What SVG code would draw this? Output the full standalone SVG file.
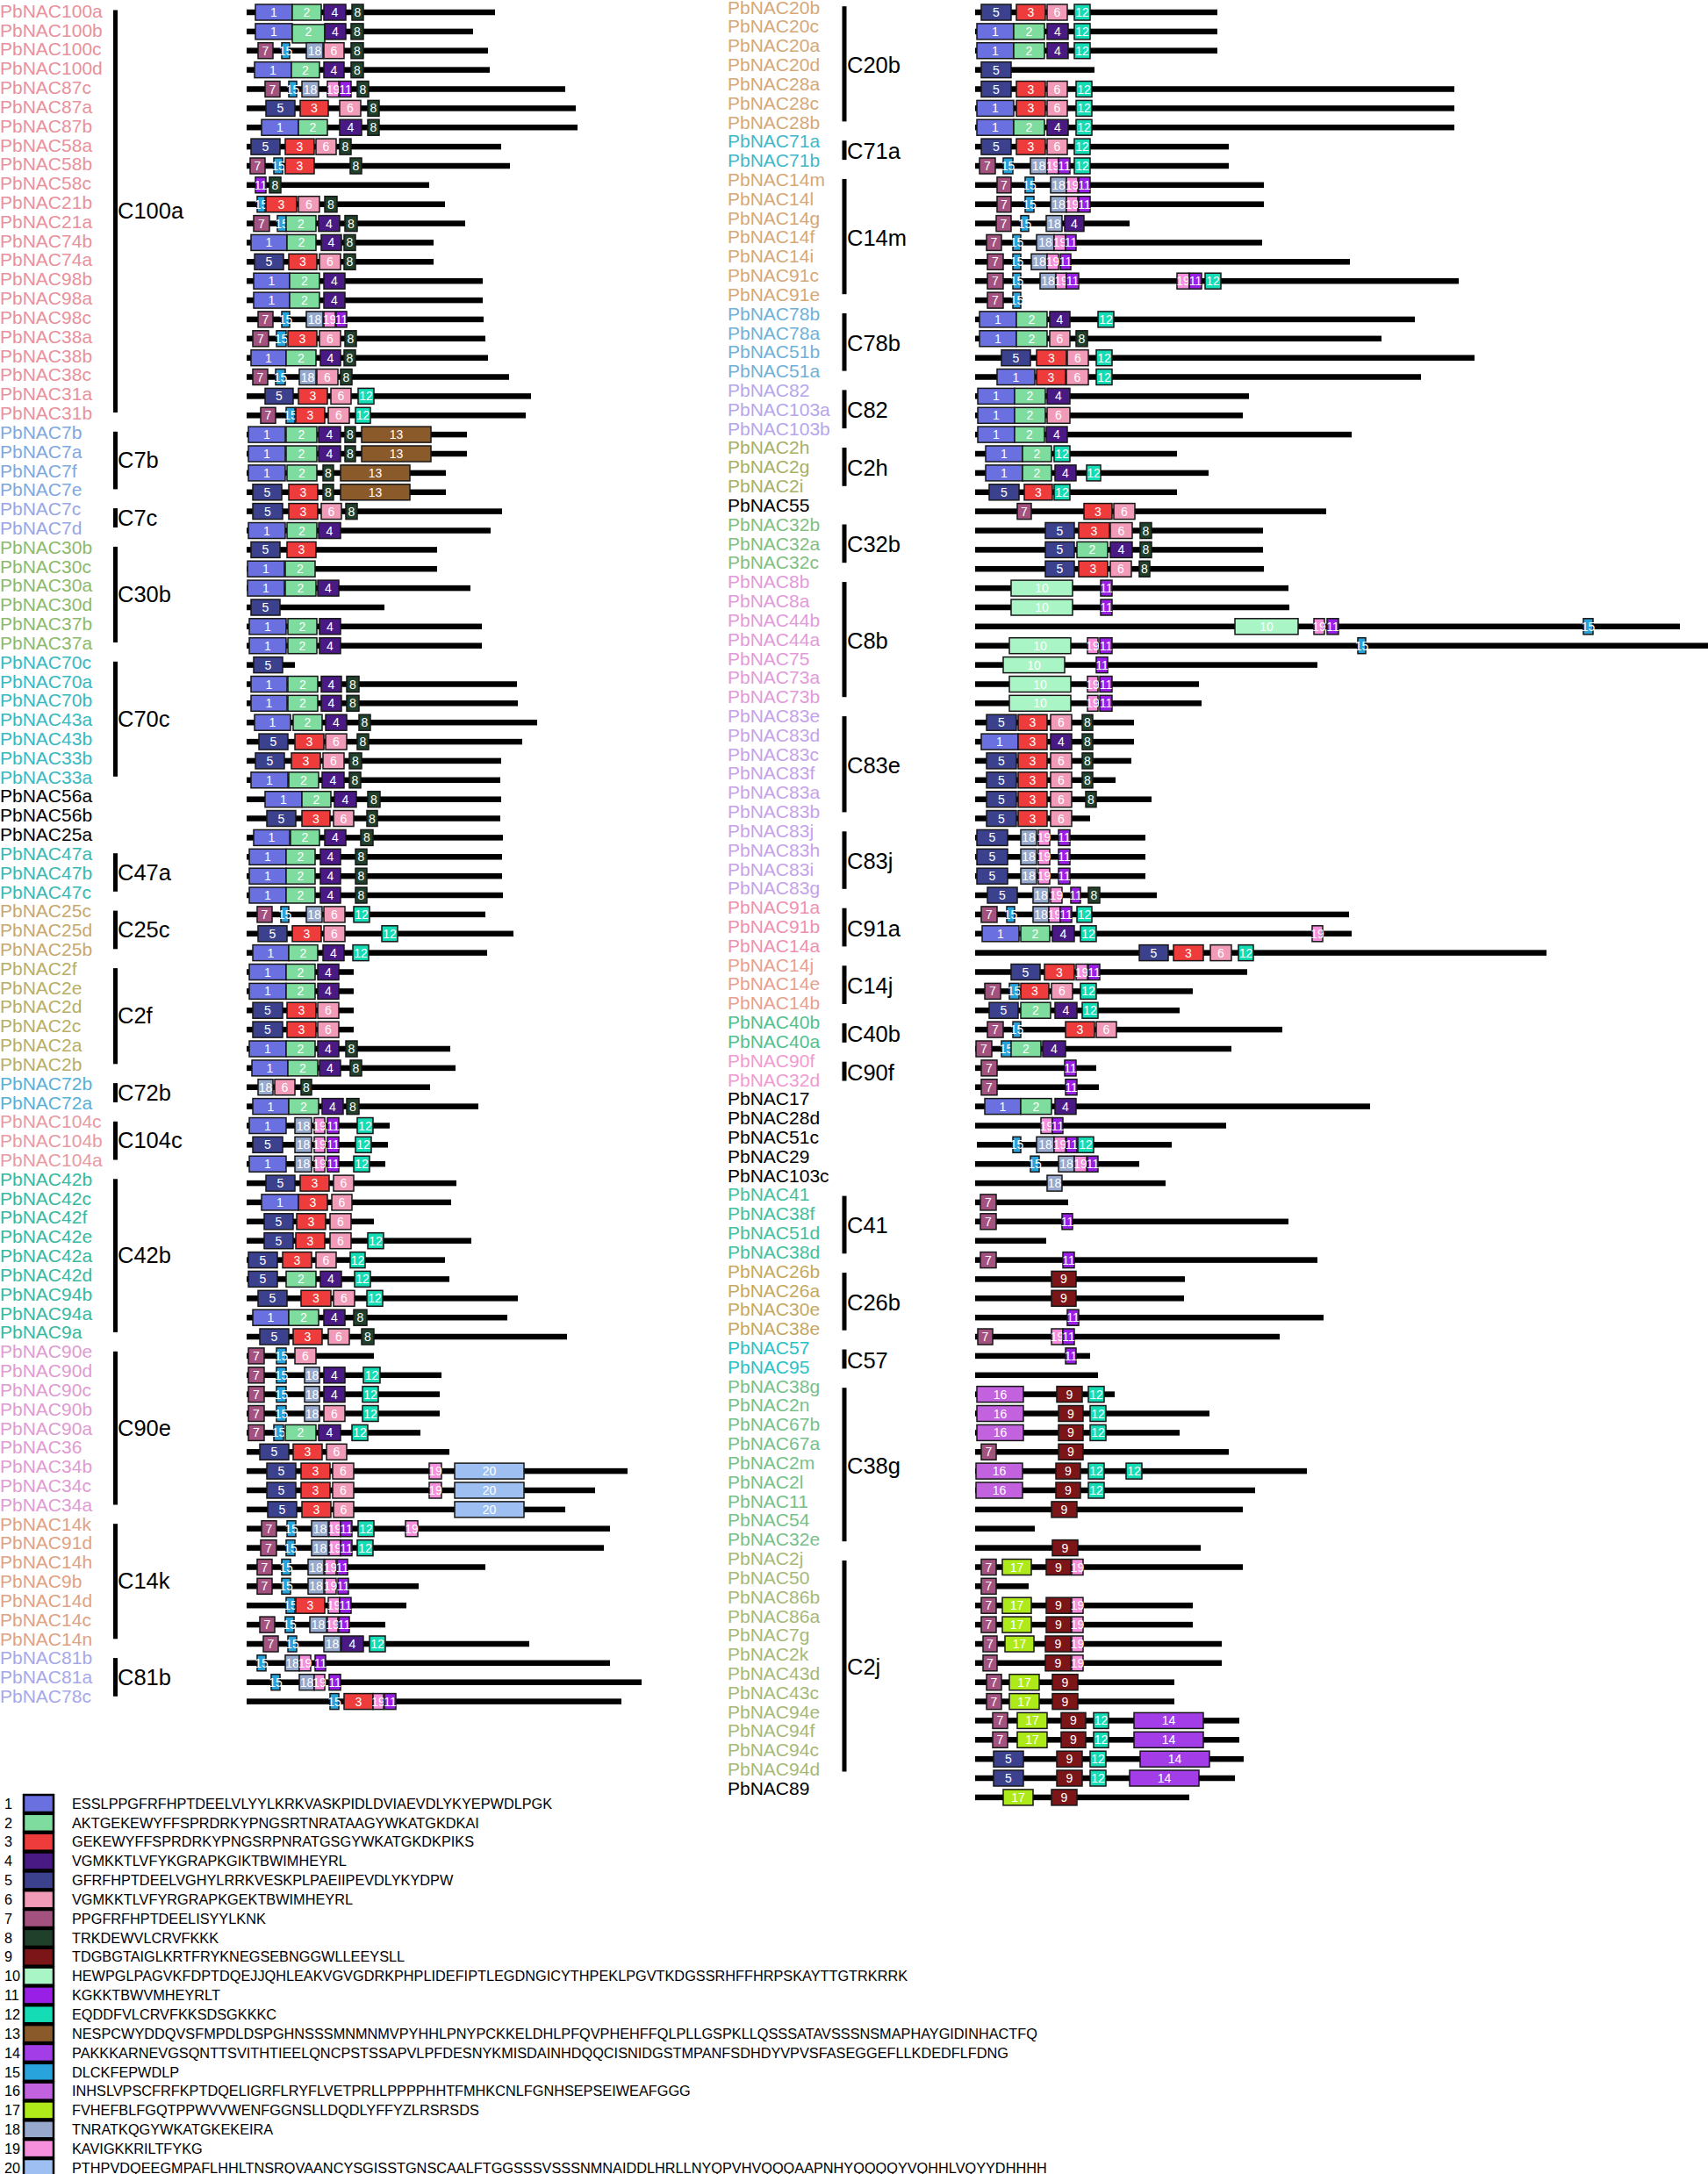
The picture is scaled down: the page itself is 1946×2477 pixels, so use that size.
<svg xmlns="http://www.w3.org/2000/svg" width="1946" height="2477" viewBox="0 0 1946 2477">
<style>
text{font-family:"Liberation Sans",Arial,sans-serif}
.r text{fill:#fff;font-size:14px;text-anchor:middle;dominant-baseline:central}
.r text.l{font-size:21px;text-anchor:start;dominant-baseline:alphabetic}
.r rect{y:-9px;height:18px;stroke:#161616;stroke-width:1.5}
.r .b{y:-3.25px;height:6.5px;fill:#000;stroke:none}
.cb{fill:#000}
.cl{font-size:25.5px;fill:#000}
.ln,.lt{font-size:16.3px;fill:#000}
.lb{stroke:#000;stroke-width:2.5}
.c1{fill:#6a70e0}.c2{fill:#7ddc9e}.c3{fill:#ee3b3b}.c4{fill:#4a1a84}.c5{fill:#3c418e}
.c6{fill:#f19bb9}.c7{fill:#a3527f}.c8{fill:#20402b}.c9{fill:#7b1518}.c10{fill:#aaf5c5}
.c11{fill:#9a1fe6}.c12{fill:#14dcb4}.c13{fill:#8b5a2b}.c14{fill:#a23de8}.c15{fill:#28a3dc}
.c16{fill:#c262de}.c17{fill:#aeea1a}.c18{fill:#97a9cc}.c19{fill:#f690dc}.c20{fill:#9dbff2}
.r .k0{fill:#000}.r .k1{fill:#e8919c}.r .k2{fill:#7fa8de}.r .k3{fill:#98a6e6}.r .k4{fill:#8cba6c}
.r .k5{fill:#36b9c2}.r .k6{fill:#38b8b2}.r .k7{fill:#c9a86e}.r .k8{fill:#b8ae66}.r .k9{fill:#58b0d6}
.r .k10{fill:#e99aa2}.r .k11{fill:#36b9a0}.r .k12{fill:#e09bd2}.r .k13{fill:#e0a282}.r .k14{fill:#a6a8ea}
.r .k15{fill:#d6a878}.r .k16{fill:#3fb9c9}.r .k17{fill:#6fb1d8}.r .k18{fill:#b6a6ec}.r .k19{fill:#a8b066}
.r .k20{fill:#7fc081}.r .k21{fill:#e29ada}.r .k22{fill:#c6a2ea}.r .k23{fill:#f090b0}.r .k24{fill:#e8a090}
.r .k25{fill:#4fc190}.r .k26{fill:#f19ad2}.r .k27{fill:#42c1a0}.r .k28{fill:#c6a860}.r .k29{fill:#2ac1c8}
.r .k30{fill:#76c18a}.r .k31{fill:#a6b978}
</style>
<g id="left">
<g id="PbNAC100a" class="r" transform="translate(0,14)"><text class="l k1" y="5.8">PbNAC100a</text><rect class="b" x="281" width="283"/><rect class="c1" x="291" width="42"/><text x="312">1</text><rect class="c2" x="333" width="33"/><text x="349.5">2</text><rect class="c4" x="369" width="25"/><text x="381.5">4</text><rect class="c8" x="401" width="13"/><text x="407.5">8</text></g>
<g id="PbNAC100b" class="r" transform="translate(0,35.9)"><text class="l k1" y="5.75">PbNAC100b</text><rect class="b" x="281" width="258"/><rect class="c1" x="291" width="42"/><text x="312">1</text><rect class="c2" x="333" width="37" style="y:-8px;height:21px"/><text x="351.5">2</text><rect class="c4" x="370" width="24"/><text x="382">4</text><rect class="c8" x="400" width="14"/><text x="407">8</text></g>
<g id="PbNAC100c" class="r" transform="translate(0,57.7)"><text class="l k1" y="5.7">PbNAC100c</text><rect class="b" x="281" width="275"/><rect class="c7" x="294" width="17"/><text x="302.5">7</text><rect class="c15" x="321" width="9"/><text x="325.5">15</text><rect class="c18" x="349" width="19"/><text x="358.5">18</text><rect class="c6" x="369" width="23"/><text x="380.5">6</text><rect class="c8" x="400" width="14"/><text x="407">8</text></g>
<g id="PbNAC100d" class="r" transform="translate(0,79.6)"><text class="l k1" y="5.65">PbNAC100d</text><rect class="b" x="281" width="277"/><rect class="c1" x="290" width="42"/><text x="311">1</text><rect class="c2" x="332" width="32"/><text x="348">2</text><rect class="c4" x="369" width="23"/><text x="380.5">4</text><rect class="c8" x="400" width="14"/><text x="407">8</text></g>
<g id="PbNAC87c" class="r" transform="translate(0,101.5)"><text class="l k1" y="5.6">PbNAC87c</text><rect class="b" x="281" width="363"/><rect class="c7" x="302" width="17"/><text x="310.5">7</text><rect class="c15" x="329" width="9"/><text x="333.5">15</text><rect class="c18" x="344" width="19"/><text x="353.5">18</text><rect class="c19" x="373" width="13"/><text x="379.5">19</text><rect class="c11" x="387" width="13"/><text x="393.5">11</text><rect class="c8" x="407" width="13"/><text x="413.5">8</text></g>
<g id="PbNAC87a" class="r" transform="translate(0,123.4)"><text class="l k1" y="5.55">PbNAC87a</text><rect class="b" x="281" width="375"/><rect class="c5" x="303" width="33"/><text x="319.5">5</text><rect class="c3" x="342" width="32"/><text x="358">3</text><rect class="c6" x="387" width="24"/><text x="399">6</text><rect class="c8" x="419" width="13"/><text x="425.5">8</text></g>
<g id="PbNAC87b" class="r" transform="translate(0,145.2)"><text class="l k1" y="5.5">PbNAC87b</text><rect class="b" x="281" width="377"/><rect class="c1" x="298" width="42"/><text x="319">1</text><rect class="c2" x="340" width="33"/><text x="356.5">2</text><rect class="c4" x="387" width="25"/><text x="399.5">4</text><rect class="c8" x="419" width="13"/><text x="425.5">8</text></g>
<g id="PbNAC58a" class="r" transform="translate(0,167.1)"><text class="l k1" y="5.45">PbNAC58a</text><rect class="b" x="281" width="290"/><rect class="c5" x="286" width="33"/><text x="302.5">5</text><rect class="c3" x="325" width="33"/><text x="341.5">3</text><rect class="c6" x="360" width="23"/><text x="371.5">6</text><rect class="c8" x="387" width="13"/><text x="393.5">8</text></g>
<g id="PbNAC58b" class="r" transform="translate(0,189)"><text class="l k1" y="5.4">PbNAC58b</text><rect class="b" x="281" width="300"/><rect class="c7" x="285" width="17"/><text x="293.5">7</text><rect class="c15" x="312" width="10"/><text x="317">15</text><rect class="c3" x="325" width="33"/><text x="341.5">3</text><rect class="c8" x="399" width="13"/><text x="405.5">8</text></g>
<g id="PbNAC58c" class="r" transform="translate(0,210.8)"><text class="l k1" y="5.35">PbNAC58c</text><rect class="b" x="281" width="208"/><rect class="c11" x="291" width="12"/><text x="297">11</text><rect class="c8" x="307" width="13"/><text x="313.5">8</text></g>
<g id="PbNAC21b" class="r" transform="translate(0,232.7)"><text class="l k1" y="5.3">PbNAC21b</text><rect class="b" x="281" width="226"/><rect class="c15" x="293" width="9"/><text x="297.5">15</text><rect class="c3" x="303" width="35"/><text x="320.5">3</text><rect class="c6" x="340" width="24"/><text x="352">6</text><rect class="c8" x="370" width="14"/><text x="377">8</text></g>
<g id="PbNAC21a" class="r" transform="translate(0,254.6)"><text class="l k1" y="5.25">PbNAC21a</text><rect class="b" x="281" width="249"/><rect class="c7" x="289" width="18"/><text x="298">7</text><rect class="c15" x="316" width="10"/><text x="321">15</text><rect class="c2" x="326" width="34"/><text x="343">2</text><rect class="c4" x="363" width="24"/><text x="375">4</text><rect class="c8" x="393" width="14"/><text x="400">8</text></g>
<g id="PbNAC74b" class="r" transform="translate(0,276.4)"><text class="l k1" y="5.2">PbNAC74b</text><rect class="b" x="281" width="213"/><rect class="c1" x="286" width="41"/><text x="306.5">1</text><rect class="c2" x="327" width="33"/><text x="343.5">2</text><rect class="c4" x="366" width="23"/><text x="377.5">4</text><rect class="c8" x="392" width="13"/><text x="398.5">8</text></g>
<g id="PbNAC74a" class="r" transform="translate(0,298.3)"><text class="l k1" y="5.15">PbNAC74a</text><rect class="b" x="281" width="213"/><rect class="c5" x="290" width="33"/><text x="306.5">5</text><rect class="c3" x="329" width="32"/><text x="345">3</text><rect class="c6" x="364" width="24"/><text x="376">6</text><rect class="c8" x="392" width="13"/><text x="398.5">8</text></g>
<g id="PbNAC98b" class="r" transform="translate(0,320.2)"><text class="l k1" y="5.1">PbNAC98b</text><rect class="b" x="281" width="269"/><rect class="c1" x="289" width="41"/><text x="309.5">1</text><rect class="c2" x="330" width="34"/><text x="347">2</text><rect class="c4" x="369" width="24"/><text x="381">4</text></g>
<g id="PbNAC98a" class="r" transform="translate(0,342.1)"><text class="l k1" y="5.05">PbNAC98a</text><rect class="b" x="281" width="269"/><rect class="c1" x="289" width="41"/><text x="309.5">1</text><rect class="c2" x="330" width="34"/><text x="347">2</text><rect class="c4" x="369" width="24"/><text x="381">4</text></g>
<g id="PbNAC98c" class="r" transform="translate(0,363.9)"><text class="l k1" y="5">PbNAC98c</text><rect class="b" x="281" width="270"/><rect class="c7" x="294" width="17"/><text x="302.5">7</text><rect class="c15" x="321" width="9"/><text x="325.5">15</text><rect class="c18" x="349" width="19"/><text x="358.5">18</text><rect class="c19" x="369" width="13"/><text x="375.5">19</text><rect class="c11" x="383" width="12"/><text x="389">11</text></g>
<g id="PbNAC38a" class="r" transform="translate(0,385.8)"><text class="l k1" y="4.95">PbNAC38a</text><rect class="b" x="281" width="272"/><rect class="c7" x="288" width="18"/><text x="297">7</text><rect class="c15" x="315" width="11"/><text x="320.5">15</text><rect class="c3" x="328" width="33"/><text x="344.5">3</text><rect class="c6" x="364" width="24"/><text x="376">6</text><rect class="c8" x="393" width="13"/><text x="399.5">8</text></g>
<g id="PbNAC38b" class="r" transform="translate(0,407.7)"><text class="l k1" y="4.9">PbNAC38b</text><rect class="b" x="281" width="275"/><rect class="c1" x="286" width="40"/><text x="306">1</text><rect class="c2" x="326" width="34"/><text x="343">2</text><rect class="c4" x="365" width="23"/><text x="376.5">4</text><rect class="c8" x="392" width="13"/><text x="398.5">8</text></g>
<g id="PbNAC38c" class="r" transform="translate(0,429.5)"><text class="l k1" y="4.85">PbNAC38c</text><rect class="b" x="281" width="299"/><rect class="c7" x="288" width="17"/><text x="296.5">7</text><rect class="c15" x="314" width="11"/><text x="319.5">15</text><rect class="c18" x="341" width="19"/><text x="350.5">18</text><rect class="c6" x="361" width="24"/><text x="373">6</text><rect class="c8" x="388" width="13"/><text x="394.5">8</text></g>
<g id="PbNAC31a" class="r" transform="translate(0,451.4)"><text class="l k1" y="4.8">PbNAC31a</text><rect class="b" x="281" width="324"/><rect class="c5" x="302" width="32"/><text x="318">5</text><rect class="c3" x="340" width="33"/><text x="356.5">3</text><rect class="c6" x="377" width="23"/><text x="388.5">6</text><rect class="c12" x="408" width="18"/><text x="417">12</text></g>
<g id="PbNAC31b" class="r" transform="translate(0,473.3)"><text class="l k1" y="4.75">PbNAC31b</text><rect class="b" x="281" width="318"/><rect class="c7" x="297" width="17"/><text x="305.5">7</text><rect class="c15" x="326" width="10"/><text x="331">15</text><rect class="c3" x="337" width="33"/><text x="353.5">3</text><rect class="c6" x="374" width="24"/><text x="386">6</text><rect class="c12" x="405" width="17"/><text x="413.5">12</text></g>
<g id="PbNAC7b" class="r" transform="translate(0,495.1)"><text class="l k2" y="4.7">PbNAC7b</text><rect class="b" x="281" width="251"/><rect class="c1" x="283" width="42"/><text x="304">1</text><rect class="c2" x="326" width="35"/><text x="343.5">2</text><rect class="c4" x="363" width="25"/><text x="375.5">4</text><rect class="c8" x="393" width="12"/><text x="399">8</text><rect class="c13" x="412" width="79"/><text x="451.5">13</text></g>
<g id="PbNAC7a" class="r" transform="translate(0,517)"><text class="l k2" y="4.65">PbNAC7a</text><rect class="b" x="281" width="251"/><rect class="c1" x="283" width="42"/><text x="304">1</text><rect class="c2" x="326" width="35"/><text x="343.5">2</text><rect class="c4" x="363" width="25"/><text x="375.5">4</text><rect class="c8" x="393" width="12"/><text x="399">8</text><rect class="c13" x="412" width="79"/><text x="451.5">13</text></g>
<g id="PbNAC7f" class="r" transform="translate(0,538.9)"><text class="l k2" y="4.6">PbNAC7f</text><rect class="b" x="281" width="227"/><rect class="c1" x="283" width="42"/><text x="304">1</text><rect class="c2" x="327" width="34"/><text x="344">2</text><rect class="c8" x="368" width="12"/><text x="374">8</text><rect class="c13" x="388" width="79"/><text x="427.5">13</text></g>
<g id="PbNAC7e" class="r" transform="translate(0,560.8)"><text class="l k2" y="4.55">PbNAC7e</text><rect class="b" x="281" width="227"/><rect class="c5" x="288" width="33"/><text x="304.5">5</text><rect class="c3" x="329" width="33"/><text x="345.5">3</text><rect class="c8" x="368" width="12"/><text x="374">8</text><rect class="c13" x="388" width="79"/><text x="427.5">13</text></g>
<g id="PbNAC7c" class="r" transform="translate(0,582.6)"><text class="l k3" y="4.5">PbNAC7c</text><rect class="b" x="281" width="291"/><rect class="c5" x="288" width="34"/><text x="305">5</text><rect class="c3" x="329" width="33"/><text x="345.5">3</text><rect class="c6" x="366" width="23"/><text x="377.5">6</text><rect class="c8" x="394" width="13"/><text x="400.5">8</text></g>
<g id="PbNAC7d" class="r" transform="translate(0,604.5)"><text class="l k3" y="4.45">PbNAC7d</text><rect class="b" x="281" width="278"/><rect class="c1" x="283" width="42"/><text x="304">1</text><rect class="c2" x="327" width="34"/><text x="344">2</text><rect class="c4" x="363" width="25"/><text x="375.5">4</text></g>
<g id="PbNAC30b" class="r" transform="translate(0,626.4)"><text class="l k4" y="4.4">PbNAC30b</text><rect class="b" x="281" width="217"/><rect class="c5" x="286" width="33"/><text x="302.5">5</text><rect class="c3" x="327" width="33"/><text x="343.5">3</text></g>
<g id="PbNAC30c" class="r" transform="translate(0,648.2)"><text class="l k4" y="4.35">PbNAC30c</text><rect class="b" x="281" width="217"/><rect class="c1" x="282" width="42"/><text x="303">1</text><rect class="c2" x="325" width="34"/><text x="342">2</text></g>
<g id="PbNAC30a" class="r" transform="translate(0,670.1)"><text class="l k4" y="4.3">PbNAC30a</text><rect class="b" x="281" width="255"/><rect class="c1" x="282" width="42"/><text x="303">1</text><rect class="c2" x="325" width="35"/><text x="342.5">2</text><rect class="c4" x="362" width="24"/><text x="374">4</text></g>
<g id="PbNAC30d" class="r" transform="translate(0,692)"><text class="l k4" y="4.25">PbNAC30d</text><rect class="b" x="281" width="157"/><rect class="c5" x="286" width="33"/><text x="302.5">5</text></g>
<g id="PbNAC37b" class="r" transform="translate(0,713.8)"><text class="l k4" y="4.2">PbNAC37b</text><rect class="b" x="281" width="268"/><rect class="c1" x="284" width="42"/><text x="305">1</text><rect class="c2" x="328" width="33"/><text x="344.5">2</text><rect class="c4" x="364" width="24"/><text x="376">4</text></g>
<g id="PbNAC37a" class="r" transform="translate(0,735.7)"><text class="l k4" y="4.15">PbNAC37a</text><rect class="b" x="281" width="268"/><rect class="c1" x="284" width="42"/><text x="305">1</text><rect class="c2" x="328" width="33"/><text x="344.5">2</text><rect class="c4" x="364" width="24"/><text x="376">4</text></g>
<g id="PbNAC70c" class="r" transform="translate(0,757.6)"><text class="l k5" y="4.1">PbNAC70c</text><rect class="b" x="281" width="55"/><rect class="c5" x="289" width="33"/><text x="305.5">5</text></g>
<g id="PbNAC70a" class="r" transform="translate(0,779.5)"><text class="l k5" y="4.05">PbNAC70a</text><rect class="b" x="281" width="308"/><rect class="c1" x="286" width="41"/><text x="306.5">1</text><rect class="c2" x="328" width="34"/><text x="345">2</text><rect class="c4" x="366" width="23"/><text x="377.5">4</text><rect class="c8" x="395" width="14"/><text x="402">8</text></g>
<g id="PbNAC70b" class="r" transform="translate(0,801.3)"><text class="l k5" y="4">PbNAC70b</text><rect class="b" x="281" width="309"/><rect class="c1" x="286" width="41"/><text x="306.5">1</text><rect class="c2" x="328" width="34"/><text x="345">2</text><rect class="c4" x="366" width="23"/><text x="377.5">4</text><rect class="c8" x="395" width="14"/><text x="402">8</text></g>
<g id="PbNAC43a" class="r" transform="translate(0,823.2)"><text class="l k5" y="3.95">PbNAC43a</text><rect class="b" x="281" width="331"/><rect class="c1" x="290" width="41"/><text x="310.5">1</text><rect class="c2" x="334" width="33"/><text x="350.5">2</text><rect class="c4" x="371" width="24"/><text x="383">4</text><rect class="c8" x="409" width="13"/><text x="415.5">8</text></g>
<g id="PbNAC43b" class="r" transform="translate(0,845.1)"><text class="l k5" y="3.9">PbNAC43b</text><rect class="b" x="281" width="314"/><rect class="c5" x="295" width="33"/><text x="311.5">5</text><rect class="c3" x="336" width="33"/><text x="352.5">3</text><rect class="c6" x="371" width="24"/><text x="383">6</text><rect class="c8" x="407" width="13"/><text x="413.5">8</text></g>
<g id="PbNAC33b" class="r" transform="translate(0,866.9)"><text class="l k5" y="3.85">PbNAC33b</text><rect class="b" x="281" width="290"/><rect class="c5" x="291" width="33"/><text x="307.5">5</text><rect class="c3" x="332" width="33"/><text x="348.5">3</text><rect class="c6" x="368" width="24"/><text x="380">6</text><rect class="c8" x="398" width="14"/><text x="405">8</text></g>
<g id="PbNAC33a" class="r" transform="translate(0,888.8)"><text class="l k5" y="3.8">PbNAC33a</text><rect class="b" x="281" width="289"/><rect class="c1" x="286" width="42"/><text x="307">1</text><rect class="c2" x="329" width="34"/><text x="346">2</text><rect class="c4" x="367" width="25"/><text x="379.5">4</text><rect class="c8" x="398" width="13"/><text x="404.5">8</text></g>
<g id="PbNAC56a" class="r" transform="translate(0,910.7)"><text class="l k0" y="3.75">PbNAC56a</text><rect class="b" x="281" width="290"/><rect class="c1" x="302" width="42"/><text x="323">1</text><rect class="c2" x="344" width="33"/><text x="360.5">2</text><rect class="c4" x="381" width="25"/><text x="393.5">4</text><rect class="c8" x="419" width="14"/><text x="426">8</text></g>
<g id="PbNAC56b" class="r" transform="translate(0,932.5)"><text class="l k0" y="3.7">PbNAC56b</text><rect class="b" x="281" width="289"/><rect class="c5" x="304" width="33"/><text x="320.5">5</text><rect class="c3" x="344" width="32"/><text x="360">3</text><rect class="c6" x="380" width="23"/><text x="391.5">6</text><rect class="c8" x="418" width="12"/><text x="424">8</text></g>
<g id="PbNAC25a" class="r" transform="translate(0,954.4)"><text class="l k0" y="3.65">PbNAC25a</text><rect class="b" x="281" width="292"/><rect class="c1" x="289" width="41"/><text x="309.5">1</text><rect class="c2" x="331" width="33"/><text x="347.5">2</text><rect class="c4" x="370" width="24"/><text x="382">4</text><rect class="c8" x="411" width="14"/><text x="418">8</text></g>
<g id="PbNAC47a" class="r" transform="translate(0,976.3)"><text class="l k6" y="3.6">PbNAC47a</text><rect class="b" x="281" width="291"/><rect class="c1" x="284" width="42"/><text x="305">1</text><rect class="c2" x="326" width="33"/><text x="342.5">2</text><rect class="c4" x="365" width="23"/><text x="376.5">4</text><rect class="c8" x="405" width="13"/><text x="411.5">8</text></g>
<g id="PbNAC47b" class="r" transform="translate(0,998.2)"><text class="l k6" y="3.55">PbNAC47b</text><rect class="b" x="281" width="291"/><rect class="c1" x="284" width="42"/><text x="305">1</text><rect class="c2" x="326" width="33"/><text x="342.5">2</text><rect class="c4" x="365" width="23"/><text x="376.5">4</text><rect class="c8" x="405" width="13"/><text x="411.5">8</text></g>
<g id="PbNAC47c" class="r" transform="translate(0,1020)"><text class="l k6" y="3.5">PbNAC47c</text><rect class="b" x="281" width="292"/><rect class="c1" x="284" width="42"/><text x="305">1</text><rect class="c2" x="326" width="33"/><text x="342.5">2</text><rect class="c4" x="365" width="23"/><text x="376.5">4</text><rect class="c8" x="405" width="13"/><text x="411.5">8</text></g>
<g id="PbNAC25c" class="r" transform="translate(0,1041.9)"><text class="l k7" y="3.45">PbNAC25c</text><rect class="b" x="281" width="272"/><rect class="c7" x="293" width="17"/><text x="301.5">7</text><rect class="c15" x="320" width="9"/><text x="324.5">15</text><rect class="c18" x="349" width="18"/><text x="358">18</text><rect class="c6" x="369" width="24"/><text x="381">6</text><rect class="c12" x="403" width="18"/><text x="412">12</text></g>
<g id="PbNAC25d" class="r" transform="translate(0,1063.8)"><text class="l k7" y="3.4">PbNAC25d</text><rect class="b" x="281" width="304"/><rect class="c5" x="294" width="33"/><text x="310.5">5</text><rect class="c3" x="333" width="33"/><text x="349.5">3</text><rect class="c6" x="369" width="24"/><text x="381">6</text><rect class="c12" x="435" width="18"/><text x="444">12</text></g>
<g id="PbNAC25b" class="r" transform="translate(0,1085.6)"><text class="l k7" y="3.35">PbNAC25b</text><rect class="b" x="281" width="274"/><rect class="c1" x="288" width="41"/><text x="308.5">1</text><rect class="c2" x="329" width="33"/><text x="345.5">2</text><rect class="c4" x="368" width="24"/><text x="380">4</text><rect class="c12" x="402" width="18"/><text x="411">12</text></g>
<g id="PbNAC2f" class="r" transform="translate(0,1107.5)"><text class="l k8" y="3.3">PbNAC2f</text><rect class="b" x="281" width="122"/><rect class="c1" x="284" width="42"/><text x="305">1</text><rect class="c2" x="326" width="33"/><text x="342.5">2</text><rect class="c4" x="362" width="24"/><text x="374">4</text></g>
<g id="PbNAC2e" class="r" transform="translate(0,1129.4)"><text class="l k8" y="3.25">PbNAC2e</text><rect class="b" x="281" width="122"/><rect class="c1" x="284" width="42"/><text x="305">1</text><rect class="c2" x="326" width="33"/><text x="342.5">2</text><rect class="c4" x="362" width="24"/><text x="374">4</text></g>
<g id="PbNAC2d" class="r" transform="translate(0,1151.2)"><text class="l k8" y="3.2">PbNAC2d</text><rect class="b" x="281" width="122"/><rect class="c5" x="288" width="34"/><text x="305">5</text><rect class="c3" x="327" width="33"/><text x="343.5">3</text><rect class="c6" x="362" width="24"/><text x="374">6</text></g>
<g id="PbNAC2c" class="r" transform="translate(0,1173.1)"><text class="l k8" y="3.15">PbNAC2c</text><rect class="b" x="281" width="122"/><rect class="c5" x="288" width="34"/><text x="305">5</text><rect class="c3" x="327" width="33"/><text x="343.5">3</text><rect class="c6" x="362" width="24"/><text x="374">6</text></g>
<g id="PbNAC2a" class="r" transform="translate(0,1195)"><text class="l k8" y="3.1">PbNAC2a</text><rect class="b" x="281" width="232"/><rect class="c1" x="284" width="42"/><text x="305">1</text><rect class="c2" x="326" width="33"/><text x="342.5">2</text><rect class="c4" x="362" width="24"/><text x="374">4</text><rect class="c8" x="394" width="13"/><text x="400.5">8</text></g>
<g id="PbNAC2b" class="r" transform="translate(0,1216.9)"><text class="l k8" y="3.05">PbNAC2b</text><rect class="b" x="281" width="238"/><rect class="c1" x="287" width="41"/><text x="307.5">1</text><rect class="c2" x="328" width="34"/><text x="345">2</text><rect class="c4" x="364" width="24"/><text x="376">4</text><rect class="c8" x="399" width="13"/><text x="405.5">8</text></g>
<g id="PbNAC72b" class="r" transform="translate(0,1238.7)"><text class="l k9" y="3">PbNAC72b</text><rect class="b" x="281" width="209"/><rect class="c18" x="294" width="17"/><text x="302.5">18</text><rect class="c6" x="313" width="23"/><text x="324.5">6</text><rect class="c8" x="343" width="12"/><text x="349">8</text></g>
<g id="PbNAC72a" class="r" transform="translate(0,1260.6)"><text class="l k9" y="2.95">PbNAC72a</text><rect class="b" x="281" width="264"/><rect class="c1" x="288" width="41"/><text x="308.5">1</text><rect class="c2" x="329" width="34"/><text x="346">2</text><rect class="c4" x="367" width="24"/><text x="379">4</text><rect class="c8" x="395" width="14"/><text x="402">8</text></g>
<g id="PbNAC104c" class="r" transform="translate(0,1282.5)"><text class="l k10" y="2.9">PbNAC104c</text><rect class="b" x="281" width="163"/><rect class="c1" x="284" width="42"/><text x="305">1</text><rect class="c18" x="336" width="19"/><text x="345.5">18</text><rect class="c19" x="358" width="12"/><text x="364">19</text><rect class="c11" x="373" width="13"/><text x="379.5">11</text><rect class="c12" x="407" width="18"/><text x="416">12</text></g>
<g id="PbNAC104b" class="r" transform="translate(0,1304.3)"><text class="l k10" y="2.85">PbNAC104b</text><rect class="b" x="281" width="161"/><rect class="c5" x="288" width="34"/><text x="305">5</text><rect class="c18" x="336" width="19"/><text x="345.5">18</text><rect class="c19" x="358" width="12"/><text x="364">19</text><rect class="c11" x="373" width="13"/><text x="379.5">11</text><rect class="c12" x="405" width="18"/><text x="414">12</text></g>
<g id="PbNAC104a" class="r" transform="translate(0,1326.2)"><text class="l k10" y="2.8">PbNAC104a</text><rect class="b" x="281" width="158"/><rect class="c1" x="284" width="42"/><text x="305">1</text><rect class="c18" x="336" width="19"/><text x="345.5">18</text><rect class="c19" x="358" width="12"/><text x="364">19</text><rect class="c11" x="373" width="13"/><text x="379.5">11</text><rect class="c12" x="403" width="18"/><text x="412">12</text></g>
<g id="PbNAC42b" class="r" transform="translate(0,1348.1)"><text class="l k11" y="2.75">PbNAC42b</text><rect class="b" x="281" width="239"/><rect class="c5" x="303" width="33"/><text x="319.5">5</text><rect class="c3" x="342" width="33"/><text x="358.5">3</text><rect class="c6" x="380" width="23"/><text x="391.5">6</text></g>
<g id="PbNAC42c" class="r" transform="translate(0,1369.9)"><text class="l k11" y="2.7">PbNAC42c</text><rect class="b" x="281" width="233"/><rect class="c1" x="298" width="42"/><text x="319">1</text><rect class="c3" x="340" width="33"/><text x="356.5">3</text><rect class="c6" x="378" width="23"/><text x="389.5">6</text></g>
<g id="PbNAC42f" class="r" transform="translate(0,1391.8)"><text class="l k11" y="2.65">PbNAC42f</text><rect class="b" x="281" width="145"/><rect class="c5" x="301" width="33"/><text x="317.5">5</text><rect class="c3" x="338" width="33"/><text x="354.5">3</text><rect class="c6" x="376" width="24"/><text x="388">6</text></g>
<g id="PbNAC42e" class="r" transform="translate(0,1413.7)"><text class="l k11" y="2.6">PbNAC42e</text><rect class="b" x="281" width="256"/><rect class="c5" x="301" width="33"/><text x="317.5">5</text><rect class="c3" x="337" width="33"/><text x="353.5">3</text><rect class="c6" x="376" width="24"/><text x="388">6</text><rect class="c12" x="419" width="18"/><text x="428">12</text></g>
<g id="PbNAC42a" class="r" transform="translate(0,1435.6)"><text class="l k11" y="2.55">PbNAC42a</text><rect class="b" x="281" width="226"/><rect class="c5" x="283" width="33"/><text x="299.5">5</text><rect class="c3" x="322" width="33"/><text x="338.5">3</text><rect class="c6" x="360" width="23"/><text x="371.5">6</text><rect class="c12" x="399" width="17"/><text x="407.5">12</text></g>
<g id="PbNAC42d" class="r" transform="translate(0,1457.4)"><text class="l k11" y="2.5">PbNAC42d</text><rect class="b" x="281" width="231"/><rect class="c5" x="283" width="33"/><text x="299.5">5</text><rect class="c2" x="326" width="34"/><text x="343">2</text><rect class="c4" x="365" width="24"/><text x="377">4</text><rect class="c12" x="404" width="18"/><text x="413">12</text></g>
<g id="PbNAC94b" class="r" transform="translate(0,1479.3)"><text class="l k11" y="2.45">PbNAC94b</text><rect class="b" x="281" width="309"/><rect class="c5" x="294" width="33"/><text x="310.5">5</text><rect class="c3" x="343" width="34"/><text x="360">3</text><rect class="c6" x="380" width="24"/><text x="392">6</text><rect class="c12" x="418" width="18"/><text x="427">12</text></g>
<g id="PbNAC94a" class="r" transform="translate(0,1501.2)"><text class="l k11" y="2.4">PbNAC94a</text><rect class="b" x="281" width="297"/><rect class="c1" x="288" width="41"/><text x="308.5">1</text><rect class="c2" x="329" width="34"/><text x="346">2</text><rect class="c4" x="369" width="24"/><text x="381">4</text><rect class="c8" x="403" width="15"/><text x="410.5">8</text></g>
<g id="PbNAC9a" class="r" transform="translate(0,1523)"><text class="l k11" y="2.35">PbNAC9a</text><rect class="b" x="281" width="365"/><rect class="c5" x="296" width="33"/><text x="312.5">5</text><rect class="c3" x="334" width="33"/><text x="350.5">3</text><rect class="c6" x="374" width="24"/><text x="386">6</text><rect class="c8" x="412" width="14"/><text x="419">8</text></g>
<g id="PbNAC90e" class="r" transform="translate(0,1544.9)"><text class="l k12" y="2.3">PbNAC90e</text><rect class="b" x="281" width="145"/><rect class="c7" x="283" width="18"/><text x="292">7</text><rect class="c15" x="315" width="11"/><text x="320.5">15</text><rect class="c6" x="336" width="24"/><text x="348">6</text></g>
<g id="PbNAC90d" class="r" transform="translate(0,1566.8)"><text class="l k12" y="2.25">PbNAC90d</text><rect class="b" x="281" width="222"/><rect class="c7" x="283" width="18"/><text x="292">7</text><rect class="c15" x="315" width="11"/><text x="320.5">15</text><rect class="c18" x="347" width="17"/><text x="355.5">18</text><rect class="c4" x="369" width="24"/><text x="381">4</text><rect class="c12" x="414" width="19"/><text x="423.5">12</text></g>
<g id="PbNAC90c" class="r" transform="translate(0,1588.6)"><text class="l k12" y="2.2">PbNAC90c</text><rect class="b" x="281" width="220"/><rect class="c7" x="283" width="18"/><text x="292">7</text><rect class="c15" x="315" width="11"/><text x="320.5">15</text><rect class="c18" x="347" width="17"/><text x="355.5">18</text><rect class="c4" x="369" width="24"/><text x="381">4</text><rect class="c12" x="413" width="18"/><text x="422">12</text></g>
<g id="PbNAC90b" class="r" transform="translate(0,1610.5)"><text class="l k12" y="2.15">PbNAC90b</text><rect class="b" x="281" width="220"/><rect class="c7" x="283" width="18"/><text x="292">7</text><rect class="c15" x="315" width="11"/><text x="320.5">15</text><rect class="c18" x="347" width="17"/><text x="355.5">18</text><rect class="c6" x="369" width="24"/><text x="381">6</text><rect class="c12" x="413" width="18"/><text x="422">12</text></g>
<g id="PbNAC90a" class="r" transform="translate(0,1632.4)"><text class="l k12" y="2.1">PbNAC90a</text><rect class="b" x="281" width="198"/><rect class="c7" x="283" width="18"/><text x="292">7</text><rect class="c15" x="312" width="11"/><text x="317.5">15</text><rect class="c2" x="325" width="35"/><text x="342.5">2</text><rect class="c4" x="363" width="25"/><text x="375.5">4</text><rect class="c12" x="401" width="18"/><text x="410">12</text></g>
<g id="PbNAC36" class="r" transform="translate(0,1654.3)"><text class="l k12" y="2.05">PbNAC36</text><rect class="b" x="281" width="231"/><rect class="c5" x="296" width="33"/><text x="312.5">5</text><rect class="c3" x="334" width="33"/><text x="350.5">3</text><rect class="c6" x="372" width="23"/><text x="383.5">6</text></g>
<g id="PbNAC34b" class="r" transform="translate(0,1676.1)"><text class="l k12" y="2">PbNAC34b</text><rect class="b" x="281" width="434"/><rect class="c5" x="304" width="33"/><text x="320.5">5</text><rect class="c3" x="343" width="33"/><text x="359.5">3</text><rect class="c6" x="379" width="24"/><text x="391">6</text><rect class="c19" x="489" width="14"/><text x="496">19</text><rect class="c20" x="518" width="79"/><text x="557.5">20</text></g>
<g id="PbNAC34c" class="r" transform="translate(0,1698)"><text class="l k12" y="1.95">PbNAC34c</text><rect class="b" x="281" width="397"/><rect class="c5" x="304" width="33"/><text x="320.5">5</text><rect class="c3" x="343" width="33"/><text x="359.5">3</text><rect class="c6" x="379" width="24"/><text x="391">6</text><rect class="c19" x="489" width="14"/><text x="496">19</text><rect class="c20" x="518" width="79"/><text x="557.5">20</text></g>
<g id="PbNAC34a" class="r" transform="translate(0,1719.9)"><text class="l k12" y="1.9">PbNAC34a</text><rect class="b" x="281" width="363"/><rect class="c5" x="305" width="33"/><text x="321.5">5</text><rect class="c3" x="344" width="33"/><text x="360.5">3</text><rect class="c6" x="380" width="23"/><text x="391.5">6</text><rect class="c20" x="518" width="79"/><text x="557.5">20</text></g>
<g id="PbNAC14k" class="r" transform="translate(0,1741.7)"><text class="l k13" y="1.85">PbNAC14k</text><rect class="b" x="281" width="414"/><rect class="c7" x="298" width="17"/><text x="306.5">7</text><rect class="c15" x="327" width="10"/><text x="332">15</text><rect class="c18" x="355" width="19"/><text x="364.5">18</text><rect class="c19" x="375" width="13"/><text x="381.5">19</text><rect class="c11" x="388" width="13"/><text x="394.5">11</text><rect class="c12" x="408" width="18"/><text x="417">12</text><rect class="c19" x="462" width="14"/><text x="469">19</text></g>
<g id="PbNAC91d" class="r" transform="translate(0,1763.6)"><text class="l k13" y="1.8">PbNAC91d</text><rect class="b" x="281" width="407"/><rect class="c7" x="297" width="18"/><text x="306">7</text><rect class="c15" x="326" width="10"/><text x="331">15</text><rect class="c18" x="355" width="19"/><text x="364.5">18</text><rect class="c19" x="375" width="13"/><text x="381.5">19</text><rect class="c11" x="388" width="13"/><text x="394.5">11</text><rect class="c12" x="407" width="18"/><text x="416">12</text></g>
<g id="PbNAC14h" class="r" transform="translate(0,1785.5)"><text class="l k13" y="1.75">PbNAC14h</text><rect class="b" x="281" width="272"/><rect class="c7" x="293" width="17"/><text x="301.5">7</text><rect class="c15" x="321" width="10"/><text x="326">15</text><rect class="c18" x="351" width="18"/><text x="360">18</text><rect class="c19" x="370" width="13"/><text x="376.5">19</text><rect class="c11" x="384" width="12"/><text x="390">11</text></g>
<g id="PbNAC9b" class="r" transform="translate(0,1807.3)"><text class="l k13" y="1.7">PbNAC9b</text><rect class="b" x="281" width="196"/><rect class="c7" x="293" width="17"/><text x="301.5">7</text><rect class="c15" x="321" width="10"/><text x="326">15</text><rect class="c18" x="351" width="18"/><text x="360">18</text><rect class="c19" x="370" width="13"/><text x="376.5">19</text><rect class="c11" x="385" width="12"/><text x="391">11</text></g>
<g id="PbNAC14d" class="r" transform="translate(0,1829.2)"><text class="l k13" y="1.65">PbNAC14d</text><rect class="b" x="281" width="182"/><rect class="c15" x="326" width="10"/><text x="331">15</text><rect class="c3" x="337" width="33"/><text x="353.5">3</text><rect class="c19" x="374" width="13"/><text x="380.5">19</text><rect class="c11" x="387" width="13"/><text x="393.5">11</text></g>
<g id="PbNAC14c" class="r" transform="translate(0,1851.1)"><text class="l k13" y="1.6">PbNAC14c</text><rect class="b" x="281" width="158"/><rect class="c7" x="296" width="17"/><text x="304.5">7</text><rect class="c15" x="325" width="10"/><text x="330">15</text><rect class="c18" x="353" width="19"/><text x="362.5">18</text><rect class="c19" x="373" width="12"/><text x="379">19</text><rect class="c11" x="386" width="12"/><text x="392">11</text></g>
<g id="PbNAC14n" class="r" transform="translate(0,1873)"><text class="l k13" y="1.55">PbNAC14n</text><rect class="b" x="281" width="322"/><rect class="c7" x="300" width="17"/><text x="308.5">7</text><rect class="c15" x="328" width="10"/><text x="333">15</text><rect class="c18" x="369" width="19"/><text x="378.5">18</text><rect class="c4" x="389" width="25"/><text x="401.5">4</text><rect class="c12" x="421" width="18"/><text x="430">12</text></g>
<g id="PbNAC81b" class="r" transform="translate(0,1894.8)"><text class="l k14" y="1.5">PbNAC81b</text><rect class="b" x="281" width="414"/><rect class="c15" x="293" width="10"/><text x="298">15</text><rect class="c18" x="325" width="16"/><text x="333">18</text><rect class="c19" x="341" width="13"/><text x="347.5">19</text><rect class="c11" x="359" width="12"/><text x="365">11</text></g>
<g id="PbNAC81a" class="r" transform="translate(0,1916.7)"><text class="l k14" y="1.45">PbNAC81a</text><rect class="b" x="281" width="450"/><rect class="c15" x="309" width="10"/><text x="314">15</text><rect class="c18" x="341" width="17"/><text x="349.5">18</text><rect class="c19" x="358" width="12"/><text x="364">19</text><rect class="c11" x="375" width="13"/><text x="381.5">11</text></g>
<g id="PbNAC78c" class="r" transform="translate(0,1938.6)"><text class="l k14" y="1.4">PbNAC78c</text><rect class="b" x="281" width="427"/><rect class="c15" x="376" width="10"/><text x="381">15</text><rect class="c3" x="392" width="33"/><text x="408.5">3</text><rect class="c19" x="425" width="12"/><text x="431">19</text><rect class="c11" x="438" width="13"/><text x="444.5">11</text></g>
</g>
<g id="right">
<g id="PbNAC20b" class="r" transform="translate(0,14)"><text class="l k15" x="829" y="1.6">PbNAC20b</text><rect class="b" x="1111" width="276"/><rect class="c5" x="1118" width="34"/><text x="1135">5</text><rect class="c3" x="1158" width="33"/><text x="1174.5">3</text><rect class="c6" x="1193" width="23"/><text x="1204.5">6</text><rect class="c12" x="1224" width="18"/><text x="1233">12</text></g>
<g id="PbNAC20c" class="r" transform="translate(0,35.9)"><text class="l k15" x="829" y="1.55">PbNAC20c</text><rect class="b" x="1111" width="276"/><rect class="c1" x="1113" width="42"/><text x="1134">1</text><rect class="c2" x="1155" width="35"/><text x="1172.5">2</text><rect class="c4" x="1193" width="24"/><text x="1205">4</text><rect class="c12" x="1224" width="18"/><text x="1233">12</text></g>
<g id="PbNAC20a" class="r" transform="translate(0,57.7)"><text class="l k15" x="829" y="1.5">PbNAC20a</text><rect class="b" x="1111" width="276"/><rect class="c1" x="1113" width="42"/><text x="1134">1</text><rect class="c2" x="1155" width="35"/><text x="1172.5">2</text><rect class="c4" x="1193" width="24"/><text x="1205">4</text><rect class="c12" x="1224" width="18"/><text x="1233">12</text></g>
<g id="PbNAC20d" class="r" transform="translate(0,79.6)"><text class="l k15" x="829" y="1.45">PbNAC20d</text><rect class="b" x="1111" width="136"/><rect class="c5" x="1118" width="34"/><text x="1135">5</text></g>
<g id="PbNAC28a" class="r" transform="translate(0,101.5)"><text class="l k15" x="829" y="1.4">PbNAC28a</text><rect class="b" x="1111" width="546"/><rect class="c5" x="1118" width="34"/><text x="1135">5</text><rect class="c3" x="1158" width="33"/><text x="1174.5">3</text><rect class="c6" x="1193" width="23"/><text x="1204.5">6</text><rect class="c12" x="1226" width="18"/><text x="1235">12</text></g>
<g id="PbNAC28c" class="r" transform="translate(0,123.4)"><text class="l k15" x="829" y="1.35">PbNAC28c</text><rect class="b" x="1111" width="546"/><rect class="c1" x="1113" width="42"/><text x="1134">1</text><rect class="c3" x="1158" width="33"/><text x="1174.5">3</text><rect class="c6" x="1193" width="23"/><text x="1204.5">6</text><rect class="c12" x="1226" width="18"/><text x="1235">12</text></g>
<g id="PbNAC28b" class="r" transform="translate(0,145.2)"><text class="l k15" x="829" y="1.3">PbNAC28b</text><rect class="b" x="1111" width="546"/><rect class="c1" x="1113" width="42"/><text x="1134">1</text><rect class="c2" x="1155" width="35"/><text x="1172.5">2</text><rect class="c4" x="1193" width="24"/><text x="1205">4</text><rect class="c12" x="1226" width="18"/><text x="1235">12</text></g>
<g id="PbNAC71a" class="r" transform="translate(0,167.1)"><text class="l k16" x="829" y="1.25">PbNAC71a</text><rect class="b" x="1111" width="289"/><rect class="c5" x="1118" width="34"/><text x="1135">5</text><rect class="c3" x="1158" width="33"/><text x="1174.5">3</text><rect class="c6" x="1193" width="23"/><text x="1204.5">6</text><rect class="c12" x="1224" width="18"/><text x="1233">12</text></g>
<g id="PbNAC71b" class="r" transform="translate(0,189)"><text class="l k16" x="829" y="1.2">PbNAC71b</text><rect class="b" x="1111" width="289"/><rect class="c7" x="1116" width="18"/><text x="1125">7</text><rect class="c15" x="1143" width="11"/><text x="1148.5">15</text><rect class="c18" x="1174" width="19"/><text x="1183.5">18</text><rect class="c19" x="1193" width="13"/><text x="1199.5">19</text><rect class="c11" x="1206" width="13"/><text x="1212.5">11</text><rect class="c12" x="1224" width="18"/><text x="1233">12</text></g>
<g id="PbNAC14m" class="r" transform="translate(0,210.8)"><text class="l k15" x="829" y="1.15">PbNAC14m</text><rect class="b" x="1111" width="329"/><rect class="c7" x="1136" width="16"/><text x="1144">7</text><rect class="c15" x="1168" width="10"/><text x="1173">15</text><rect class="c18" x="1197" width="18"/><text x="1206">18</text><rect class="c19" x="1215" width="13"/><text x="1221.5">19</text><rect class="c11" x="1229" width="13"/><text x="1235.5">11</text></g>
<g id="PbNAC14l" class="r" transform="translate(0,232.7)"><text class="l k15" x="829" y="1.1">PbNAC14l</text><rect class="b" x="1111" width="329"/><rect class="c7" x="1136" width="16"/><text x="1144">7</text><rect class="c15" x="1168" width="10"/><text x="1173">15</text><rect class="c18" x="1197" width="18"/><text x="1206">18</text><rect class="c19" x="1215" width="13"/><text x="1221.5">19</text><rect class="c11" x="1229" width="13"/><text x="1235.5">11</text></g>
<g id="PbNAC14g" class="r" transform="translate(0,254.6)"><text class="l k15" x="829" y="1.05">PbNAC14g</text><rect class="b" x="1111" width="176"/><rect class="c7" x="1135" width="17"/><text x="1143.5">7</text><rect class="c15" x="1163" width="9"/><text x="1167.5">15</text><rect class="c18" x="1192" width="18"/><text x="1201">18</text><rect class="c4" x="1213" width="22"/><text x="1224">4</text></g>
<g id="PbNAC14f" class="r" transform="translate(0,276.4)"><text class="l k15" x="829" y="1">PbNAC14f</text><rect class="b" x="1111" width="327"/><rect class="c7" x="1124" width="17"/><text x="1132.5">7</text><rect class="c15" x="1154" width="9"/><text x="1158.5">15</text><rect class="c18" x="1181" width="20"/><text x="1191">18</text><rect class="c19" x="1201" width="13"/><text x="1207.5">19</text><rect class="c11" x="1214" width="12"/><text x="1220">11</text></g>
<g id="PbNAC14i" class="r" transform="translate(0,298.3)"><text class="l k15" x="829" y="0.95">PbNAC14i</text><rect class="b" x="1111" width="427"/><rect class="c7" x="1125" width="18"/><text x="1134">7</text><rect class="c15" x="1154" width="9"/><text x="1158.5">15</text><rect class="c18" x="1175" width="18"/><text x="1184">18</text><rect class="c19" x="1193" width="13"/><text x="1199.5">19</text><rect class="c11" x="1208" width="12"/><text x="1214">11</text></g>
<g id="PbNAC91c" class="r" transform="translate(0,320.2)"><text class="l k15" x="829" y="0.9">PbNAC91c</text><rect class="b" x="1111" width="551"/><rect class="c7" x="1125" width="18"/><text x="1134">7</text><rect class="c15" x="1154" width="9"/><text x="1158.5">15</text><rect class="c18" x="1185" width="18"/><text x="1194">18</text><rect class="c19" x="1203" width="12"/><text x="1209">19</text><rect class="c11" x="1215" width="14"/><text x="1222">11</text><rect class="c19" x="1341" width="14"/><text x="1348">19</text><rect class="c11" x="1355" width="14"/><text x="1362">11</text><rect class="c12" x="1373" width="18"/><text x="1382">12</text></g>
<g id="PbNAC91e" class="r" transform="translate(0,342.1)"><text class="l k15" x="829" y="0.85">PbNAC91e</text><rect class="b" x="1111" width="54"/><rect class="c7" x="1125" width="18"/><text x="1134">7</text><rect class="c15" x="1154" width="9"/><text x="1158.5">15</text></g>
<g id="PbNAC78b" class="r" transform="translate(0,363.9)"><text class="l k17" x="829" y="0.8">PbNAC78b</text><rect class="b" x="1111" width="501"/><rect class="c1" x="1116" width="42"/><text x="1137">1</text><rect class="c2" x="1158" width="35"/><text x="1175.5">2</text><rect class="c4" x="1196" width="23"/><text x="1207.5">4</text><rect class="c12" x="1251" width="18"/><text x="1260">12</text></g>
<g id="PbNAC78a" class="r" transform="translate(0,385.8)"><text class="l k17" x="829" y="0.75">PbNAC78a</text><rect class="b" x="1111" width="463"/><rect class="c1" x="1116" width="42"/><text x="1137">1</text><rect class="c2" x="1158" width="35"/><text x="1175.5">2</text><rect class="c6" x="1196" width="23"/><text x="1207.5">6</text><rect class="c8" x="1226" width="13"/><text x="1232.5">8</text></g>
<g id="PbNAC51b" class="r" transform="translate(0,407.7)"><text class="l k17" x="829" y="0.7">PbNAC51b</text><rect class="b" x="1111" width="569"/><rect class="c5" x="1141" width="33"/><text x="1157.5">5</text><rect class="c3" x="1181" width="34"/><text x="1198">3</text><rect class="c6" x="1216" width="24"/><text x="1228">6</text><rect class="c12" x="1249" width="18"/><text x="1258">12</text></g>
<g id="PbNAC51a" class="r" transform="translate(0,429.5)"><text class="l k17" x="829" y="0.65">PbNAC51a</text><rect class="b" x="1111" width="508"/><rect class="c1" x="1136" width="43"/><text x="1157.5">1</text><rect class="c3" x="1181" width="33"/><text x="1197.5">3</text><rect class="c6" x="1215" width="25"/><text x="1227.5">6</text><rect class="c12" x="1249" width="18"/><text x="1258">12</text></g>
<g id="PbNAC82" class="r" transform="translate(0,451.4)"><text class="l k18" x="829" y="0.6">PbNAC82</text><rect class="b" x="1111" width="312"/><rect class="c1" x="1114" width="42"/><text x="1135">1</text><rect class="c2" x="1156" width="35"/><text x="1173.5">2</text><rect class="c4" x="1193" width="26"/><text x="1206">4</text></g>
<g id="PbNAC103a" class="r" transform="translate(0,473.3)"><text class="l k18" x="829" y="0.55">PbNAC103a</text><rect class="b" x="1111" width="305"/><rect class="c1" x="1114" width="42"/><text x="1135">1</text><rect class="c2" x="1156" width="35"/><text x="1173.5">2</text><rect class="c6" x="1193" width="26"/><text x="1206">6</text></g>
<g id="PbNAC103b" class="r" transform="translate(0,495.1)"><text class="l k18" x="829" y="0.5">PbNAC103b</text><rect class="b" x="1111" width="429"/><rect class="c1" x="1114" width="42"/><text x="1135">1</text><rect class="c2" x="1156" width="34"/><text x="1173">2</text><rect class="c4" x="1192" width="24"/><text x="1204">4</text></g>
<g id="PbNAC2h" class="r" transform="translate(0,517)"><text class="l k19" x="829" y="0.45">PbNAC2h</text><rect class="b" x="1111" width="230"/><rect class="c1" x="1123" width="42"/><text x="1144">1</text><rect class="c2" x="1165" width="33"/><text x="1181.5">2</text><rect class="c12" x="1201" width="18"/><text x="1210">12</text></g>
<g id="PbNAC2g" class="r" transform="translate(0,538.9)"><text class="l k19" x="829" y="0.4">PbNAC2g</text><rect class="b" x="1111" width="266"/><rect class="c1" x="1123" width="42"/><text x="1144">1</text><rect class="c2" x="1165" width="33"/><text x="1181.5">2</text><rect class="c4" x="1202" width="24"/><text x="1214">4</text><rect class="c12" x="1238" width="16"/><text x="1246">12</text></g>
<g id="PbNAC2i" class="r" transform="translate(0,560.8)"><text class="l k19" x="829" y="0.35">PbNAC2i</text><rect class="b" x="1111" width="230"/><rect class="c5" x="1127" width="34"/><text x="1144">5</text><rect class="c3" x="1167" width="32"/><text x="1183">3</text><rect class="c12" x="1201" width="18"/><text x="1210">12</text></g>
<g id="PbNAC55" class="r" transform="translate(0,582.6)"><text class="l k0" x="829" y="0.3">PbNAC55</text><rect class="b" x="1111" width="400"/><rect class="c7" x="1159" width="16"/><text x="1167">7</text><rect class="c3" x="1235" width="32"/><text x="1251">3</text><rect class="c6" x="1269" width="24"/><text x="1281">6</text></g>
<g id="PbNAC32b" class="r" transform="translate(0,604.5)"><text class="l k20" x="829" y="0.25">PbNAC32b</text><rect class="b" x="1111" width="328"/><rect class="c5" x="1191" width="33"/><text x="1207.5">5</text><rect class="c3" x="1229" width="35"/><text x="1246.5">3</text><rect class="c6" x="1265" width="25"/><text x="1277.5">6</text><rect class="c8" x="1299" width="13"/><text x="1305.5">8</text></g>
<g id="PbNAC32a" class="r" transform="translate(0,626.4)"><text class="l k20" x="829" y="0.2">PbNAC32a</text><rect class="b" x="1111" width="328"/><rect class="c5" x="1191" width="33"/><text x="1207.5">5</text><rect class="c2" x="1227" width="35"/><text x="1244.5">2</text><rect class="c4" x="1265" width="25"/><text x="1277.5">4</text><rect class="c8" x="1299" width="13"/><text x="1305.5">8</text></g>
<g id="PbNAC32c" class="r" transform="translate(0,648.2)"><text class="l k20" x="829" y="0.15">PbNAC32c</text><rect class="b" x="1111" width="329"/><rect class="c5" x="1191" width="33"/><text x="1207.5">5</text><rect class="c3" x="1229" width="33"/><text x="1245.5">3</text><rect class="c6" x="1265" width="24"/><text x="1277">6</text><rect class="c8" x="1298" width="12"/><text x="1304">8</text></g>
<g id="PbNAC8b" class="r" transform="translate(0,670.1)"><text class="l k21" x="829" y="0.1">PbNAC8b</text><rect class="b" x="1111" width="357"/><rect class="c10" x="1152" width="70"/><text x="1187">10</text><rect class="c11" x="1254" width="13"/><text x="1260.5">11</text></g>
<g id="PbNAC8a" class="r" transform="translate(0,692)"><text class="l k21" x="829" y="0.05">PbNAC8a</text><rect class="b" x="1111" width="358"/><rect class="c10" x="1152" width="70"/><text x="1187">10</text><rect class="c11" x="1254" width="13"/><text x="1260.5">11</text></g>
<g id="PbNAC44b" class="r" transform="translate(0,713.8)"><text class="l k21" x="829" y="0">PbNAC44b</text><rect class="b" x="1111" width="803"/><rect class="c10" x="1407" width="72"/><text x="1443">10</text><rect class="c19" x="1497" width="12"/><text x="1503">19</text><rect class="c11" x="1512" width="13"/><text x="1518.5">11</text><rect class="c15" x="1804" width="11"/><text x="1809.5">15</text></g>
<g id="PbNAC44a" class="r" transform="translate(0,735.7)"><text class="l k21" x="829" y="-0.05">PbNAC44a</text><rect class="b" x="1111" width="835"/><rect class="c10" x="1150" width="70"/><text x="1185">10</text><rect class="c19" x="1239" width="12"/><text x="1245">19</text><rect class="c11" x="1253" width="14"/><text x="1260">11</text><rect class="c15" x="1547" width="9"/><text x="1551.5">15</text></g>
<g id="PbNAC75" class="r" transform="translate(0,757.6)"><text class="l k21" x="829" y="-0.1">PbNAC75</text><rect class="b" x="1111" width="390"/><rect class="c10" x="1143" width="70"/><text x="1178">10</text><rect class="c11" x="1249" width="13"/><text x="1255.5">11</text></g>
<g id="PbNAC73a" class="r" transform="translate(0,779.5)"><text class="l k21" x="829" y="-0.15">PbNAC73a</text><rect class="b" x="1111" width="255"/><rect class="c10" x="1150" width="70"/><text x="1185">10</text><rect class="c19" x="1239" width="12"/><text x="1245">19</text><rect class="c11" x="1253" width="14"/><text x="1260">11</text></g>
<g id="PbNAC73b" class="r" transform="translate(0,801.3)"><text class="l k21" x="829" y="-0.2">PbNAC73b</text><rect class="b" x="1111" width="258"/><rect class="c10" x="1150" width="70"/><text x="1185">10</text><rect class="c19" x="1239" width="12"/><text x="1245">19</text><rect class="c11" x="1253" width="14"/><text x="1260">11</text></g>
<g id="PbNAC83e" class="r" transform="translate(0,823.2)"><text class="l k22" x="829" y="-0.25">PbNAC83e</text><rect class="b" x="1111" width="181"/><rect class="c5" x="1124" width="34"/><text x="1141">5</text><rect class="c3" x="1160" width="33"/><text x="1176.5">3</text><rect class="c6" x="1197" width="24"/><text x="1209">6</text><rect class="c8" x="1233" width="12"/><text x="1239">8</text></g>
<g id="PbNAC83d" class="r" transform="translate(0,845.1)"><text class="l k22" x="829" y="-0.3">PbNAC83d</text><rect class="b" x="1111" width="181"/><rect class="c1" x="1118" width="42"/><text x="1139">1</text><rect class="c3" x="1160" width="33"/><text x="1176.5">3</text><rect class="c4" x="1197" width="24"/><text x="1209">4</text><rect class="c8" x="1233" width="12"/><text x="1239">8</text></g>
<g id="PbNAC83c" class="r" transform="translate(0,866.9)"><text class="l k22" x="829" y="-0.35">PbNAC83c</text><rect class="b" x="1111" width="178"/><rect class="c5" x="1124" width="34"/><text x="1141">5</text><rect class="c3" x="1160" width="33"/><text x="1176.5">3</text><rect class="c6" x="1197" width="24"/><text x="1209">6</text><rect class="c8" x="1233" width="12"/><text x="1239">8</text></g>
<g id="PbNAC83f" class="r" transform="translate(0,888.8)"><text class="l k22" x="829" y="-0.4">PbNAC83f</text><rect class="b" x="1111" width="160"/><rect class="c5" x="1124" width="34"/><text x="1141">5</text><rect class="c3" x="1160" width="33"/><text x="1176.5">3</text><rect class="c6" x="1197" width="24"/><text x="1209">6</text><rect class="c8" x="1233" width="12"/><text x="1239">8</text></g>
<g id="PbNAC83a" class="r" transform="translate(0,910.7)"><text class="l k22" x="829" y="-0.45">PbNAC83a</text><rect class="b" x="1111" width="201"/><rect class="c5" x="1124" width="34"/><text x="1141">5</text><rect class="c3" x="1160" width="33"/><text x="1176.5">3</text><rect class="c6" x="1197" width="24"/><text x="1209">6</text><rect class="c8" x="1237" width="12"/><text x="1243">8</text></g>
<g id="PbNAC83b" class="r" transform="translate(0,932.5)"><text class="l k22" x="829" y="-0.5">PbNAC83b</text><rect class="b" x="1111" width="131"/><rect class="c5" x="1124" width="34"/><text x="1141">5</text><rect class="c3" x="1160" width="33"/><text x="1176.5">3</text><rect class="c6" x="1197" width="24"/><text x="1209">6</text></g>
<g id="PbNAC83j" class="r" transform="translate(0,954.4)"><text class="l k22" x="829" y="-0.55">PbNAC83j</text><rect class="b" x="1111" width="194"/><rect class="c5" x="1113" width="35"/><text x="1130.5">5</text><rect class="c18" x="1163" width="18"/><text x="1172">18</text><rect class="c19" x="1183" width="13"/><text x="1189.5">19</text><rect class="c11" x="1206" width="13"/><text x="1212.5">11</text></g>
<g id="PbNAC83h" class="r" transform="translate(0,976.3)"><text class="l k22" x="829" y="-0.6">PbNAC83h</text><rect class="b" x="1111" width="194"/><rect class="c5" x="1113" width="35"/><text x="1130.5">5</text><rect class="c18" x="1163" width="18"/><text x="1172">18</text><rect class="c19" x="1183" width="13"/><text x="1189.5">19</text><rect class="c11" x="1206" width="13"/><text x="1212.5">11</text></g>
<g id="PbNAC83i" class="r" transform="translate(0,998.2)"><text class="l k22" x="829" y="-0.65">PbNAC83i</text><rect class="b" x="1111" width="194"/><rect class="c5" x="1113" width="35"/><text x="1130.5">5</text><rect class="c18" x="1163" width="18"/><text x="1172">18</text><rect class="c19" x="1183" width="13"/><text x="1189.5">19</text><rect class="c11" x="1206" width="13"/><text x="1212.5">11</text></g>
<g id="PbNAC83g" class="r" transform="translate(0,1020)"><text class="l k22" x="829" y="-0.7">PbNAC83g</text><rect class="b" x="1111" width="207"/><rect class="c5" x="1125" width="34"/><text x="1142">5</text><rect class="c18" x="1177" width="18"/><text x="1186">18</text><rect class="c19" x="1197" width="13"/><text x="1203.5">19</text><rect class="c11" x="1220" width="11"/><text x="1225.5">11</text><rect class="c8" x="1240" width="13"/><text x="1246.5">8</text></g>
<g id="PbNAC91a" class="r" transform="translate(0,1041.9)"><text class="l k23" x="829" y="-0.75">PbNAC91a</text><rect class="b" x="1111" width="426"/><rect class="c7" x="1118" width="18"/><text x="1127">7</text><rect class="c15" x="1147" width="9"/><text x="1151.5">15</text><rect class="c18" x="1177" width="18"/><text x="1186">18</text><rect class="c19" x="1195" width="13"/><text x="1201.5">19</text><rect class="c11" x="1208" width="13"/><text x="1214.5">11</text><rect class="c12" x="1227" width="17"/><text x="1235.5">12</text></g>
<g id="PbNAC91b" class="r" transform="translate(0,1063.8)"><text class="l k23" x="829" y="-0.8">PbNAC91b</text><rect class="b" x="1111" width="429"/><rect class="c1" x="1119" width="42"/><text x="1140">1</text><rect class="c2" x="1163" width="33"/><text x="1179.5">2</text><rect class="c4" x="1199" width="25"/><text x="1211.5">4</text><rect class="c12" x="1231" width="18"/><text x="1240">12</text><rect class="c19" x="1495" width="12"/><text x="1501">19</text></g>
<g id="PbNAC14a" class="r" transform="translate(0,1085.6)"><text class="l k23" x="829" y="-0.85">PbNAC14a</text><rect class="b" x="1111" width="651"/><rect class="c5" x="1298" width="33"/><text x="1314.5">5</text><rect class="c3" x="1337" width="34"/><text x="1354">3</text><rect class="c6" x="1379" width="24"/><text x="1391">6</text><rect class="c12" x="1411" width="17"/><text x="1419.5">12</text></g>
<g id="PbNAC14j" class="r" transform="translate(0,1107.5)"><text class="l k24" x="829" y="-0.9">PbNAC14j</text><rect class="b" x="1111" width="310"/><rect class="c5" x="1152" width="33"/><text x="1168.5">5</text><rect class="c3" x="1190" width="34"/><text x="1207">3</text><rect class="c19" x="1226" width="13"/><text x="1232.5">19</text><rect class="c11" x="1240" width="13"/><text x="1246.5">11</text></g>
<g id="PbNAC14e" class="r" transform="translate(0,1129.4)"><text class="l k24" x="829" y="-0.95">PbNAC14e</text><rect class="b" x="1111" width="248"/><rect class="c7" x="1122" width="18"/><text x="1131">7</text><rect class="c15" x="1150" width="11"/><text x="1155.5">15</text><rect class="c3" x="1163" width="32"/><text x="1179">3</text><rect class="c6" x="1198" width="24"/><text x="1210">6</text><rect class="c12" x="1231" width="18"/><text x="1240">12</text></g>
<g id="PbNAC14b" class="r" transform="translate(0,1151.2)"><text class="l k24" x="829" y="-1">PbNAC14b</text><rect class="b" x="1111" width="233"/><rect class="c5" x="1127" width="33"/><text x="1143.5">5</text><rect class="c2" x="1163" width="34"/><text x="1180">2</text><rect class="c4" x="1202" width="25"/><text x="1214.5">4</text><rect class="c12" x="1233" width="18"/><text x="1242">12</text></g>
<g id="PbNAC40b" class="r" transform="translate(0,1173.1)"><text class="l k25" x="829" y="-1.05">PbNAC40b</text><rect class="b" x="1111" width="350"/><rect class="c7" x="1125" width="18"/><text x="1134">7</text><rect class="c15" x="1154" width="9"/><text x="1158.5">15</text><rect class="c3" x="1214" width="33"/><text x="1230.5">3</text><rect class="c6" x="1249" width="23"/><text x="1260.5">6</text></g>
<g id="PbNAC40a" class="r" transform="translate(0,1195)"><text class="l k25" x="829" y="-1.1">PbNAC40a</text><rect class="b" x="1111" width="292"/><rect class="c7" x="1112" width="18"/><text x="1121">7</text><rect class="c15" x="1141" width="11"/><text x="1146.5">15</text><rect class="c2" x="1152" width="34"/><text x="1169">2</text><rect class="c4" x="1188" width="26"/><text x="1201">4</text></g>
<g id="PbNAC90f" class="r" transform="translate(0,1216.9)"><text class="l k26" x="829" y="-1.15">PbNAC90f</text><rect class="b" x="1111" width="138"/><rect class="c7" x="1118" width="18"/><text x="1127">7</text><rect class="c11" x="1213" width="13"/><text x="1219.5">11</text></g>
<g id="PbNAC32d" class="r" transform="translate(0,1238.7)"><text class="l k26" x="829" y="-1.2">PbNAC32d</text><rect class="b" x="1111" width="141"/><rect class="c7" x="1118" width="18"/><text x="1127">7</text><rect class="c11" x="1214" width="13"/><text x="1220.5">11</text></g>
<g id="PbNAC17" class="r" transform="translate(0,1260.6)"><text class="l k0" x="829" y="-1.25">PbNAC17</text><rect class="b" x="1111" width="450"/><rect class="c1" x="1122" width="41"/><text x="1142.5">1</text><rect class="c2" x="1163" width="35"/><text x="1180.5">2</text><rect class="c4" x="1202" width="24"/><text x="1214">4</text></g>
<g id="PbNAC28d" class="r" transform="translate(0,1282.5)"><text class="l k0" x="829" y="-1.3">PbNAC28d</text><rect class="b" x="1111" width="286"/><rect class="c19" x="1186" width="13"/><text x="1192.5">19</text><rect class="c11" x="1199" width="12"/><text x="1205">11</text></g>
<g id="PbNAC51c" class="r" transform="translate(0,1304.3)"><text class="l k0" x="829" y="-1.35">PbNAC51c</text><rect class="b" x="1113" width="222"/><rect class="c15" x="1154" width="9"/><text x="1158.5">15</text><rect class="c18" x="1181" width="20"/><text x="1191">18</text><rect class="c19" x="1201" width="13"/><text x="1207.5">19</text><rect class="c11" x="1215" width="12"/><text x="1221">11</text><rect class="c12" x="1228" width="18"/><text x="1237">12</text></g>
<g id="PbNAC29" class="r" transform="translate(0,1326.2)"><text class="l k0" x="829" y="-1.4">PbNAC29</text><rect class="b" x="1111" width="187"/><rect class="c15" x="1174" width="10"/><text x="1179">15</text><rect class="c18" x="1206" width="18"/><text x="1215">18</text><rect class="c19" x="1224" width="14"/><text x="1231">19</text><rect class="c11" x="1239" width="12"/><text x="1245">11</text></g>
<g id="PbNAC103c" class="r" transform="translate(0,1348.1)"><text class="l k0" x="829" y="-1.45">PbNAC103c</text><rect class="b" x="1111" width="217"/><rect class="c18" x="1193" width="17"/><text x="1201.5">18</text></g>
<g id="PbNAC41" class="r" transform="translate(0,1369.9)"><text class="l k27" x="829" y="-1.5">PbNAC41</text><rect class="b" x="1111" width="106"/><rect class="c7" x="1117" width="18"/><text x="1126">7</text></g>
<g id="PbNAC38f" class="r" transform="translate(0,1391.8)"><text class="l k27" x="829" y="-1.55">PbNAC38f</text><rect class="b" x="1111" width="357"/><rect class="c7" x="1117" width="18"/><text x="1126">7</text><rect class="c11" x="1210" width="12"/><text x="1216">11</text></g>
<g id="PbNAC51d" class="r" transform="translate(0,1413.7)"><text class="l k27" x="829" y="-1.6">PbNAC51d</text><rect class="b" x="1111" width="81"/></g>
<g id="PbNAC38d" class="r" transform="translate(0,1435.6)"><text class="l k27" x="829" y="-1.65">PbNAC38d</text><rect class="b" x="1111" width="390"/><rect class="c7" x="1117" width="18"/><text x="1126">7</text><rect class="c11" x="1211" width="13"/><text x="1217.5">11</text></g>
<g id="PbNAC26b" class="r" transform="translate(0,1457.4)"><text class="l k28" x="829" y="-1.7">PbNAC26b</text><rect class="b" x="1111" width="239"/><rect class="c9" x="1198" width="28"/><text x="1212">9</text></g>
<g id="PbNAC26a" class="r" transform="translate(0,1479.3)"><text class="l k28" x="829" y="-1.75">PbNAC26a</text><rect class="b" x="1111" width="238"/><rect class="c9" x="1198" width="28"/><text x="1212">9</text></g>
<g id="PbNAC30e" class="r" transform="translate(0,1501.2)"><text class="l k28" x="829" y="-1.8">PbNAC30e</text><rect class="b" x="1111" width="397"/><rect class="c11" x="1216" width="13"/><text x="1222.5">11</text></g>
<g id="PbNAC38e" class="r" transform="translate(0,1523)"><text class="l k28" x="829" y="-1.85">PbNAC38e</text><rect class="b" x="1111" width="347"/><rect class="c7" x="1114" width="17"/><text x="1122.5">7</text><rect class="c19" x="1198" width="13"/><text x="1204.5">19</text><rect class="c11" x="1211" width="13"/><text x="1217.5">11</text></g>
<g id="PbNAC57" class="r" transform="translate(0,1544.9)"><text class="l k29" x="829" y="-1.9">PbNAC57</text><rect class="b" x="1111" width="131"/><rect class="c11" x="1214" width="12"/><text x="1220">11</text></g>
<g id="PbNAC95" class="r" transform="translate(0,1566.8)"><text class="l k29" x="829" y="-1.95">PbNAC95</text><rect class="b" x="1111" width="140"/></g>
<g id="PbNAC38g" class="r" transform="translate(0,1588.6)"><text class="l k30" x="829" y="-2">PbNAC38g</text><rect class="b" x="1111" width="159"/><rect class="c16" x="1113" width="53"/><text x="1139.5">16</text><rect class="c9" x="1204" width="29"/><text x="1218.5">9</text><rect class="c12" x="1240" width="18"/><text x="1249">12</text></g>
<g id="PbNAC2n" class="r" transform="translate(0,1610.5)"><text class="l k30" x="829" y="-2.05">PbNAC2n</text><rect class="b" x="1111" width="267"/><rect class="c16" x="1113" width="53"/><text x="1139.5">16</text><rect class="c9" x="1206" width="28"/><text x="1220">9</text><rect class="c12" x="1242" width="18"/><text x="1251">12</text></g>
<g id="PbNAC67b" class="r" transform="translate(0,1632.4)"><text class="l k30" x="829" y="-2.1">PbNAC67b</text><rect class="b" x="1111" width="233"/><rect class="c16" x="1113" width="53"/><text x="1139.5">16</text><rect class="c9" x="1206" width="28"/><text x="1220">9</text><rect class="c12" x="1242" width="18"/><text x="1251">12</text></g>
<g id="PbNAC67a" class="r" transform="translate(0,1654.3)"><text class="l k30" x="829" y="-2.15">PbNAC67a</text><rect class="b" x="1111" width="289"/><rect class="c7" x="1118" width="17"/><text x="1126.5">7</text><rect class="c9" x="1206" width="28"/><text x="1220">9</text></g>
<g id="PbNAC2m" class="r" transform="translate(0,1676.1)"><text class="l k30" x="829" y="-2.2">PbNAC2m</text><rect class="b" x="1111" width="378"/><rect class="c16" x="1112" width="53"/><text x="1138.5">16</text><rect class="c9" x="1203" width="28"/><text x="1217">9</text><rect class="c12" x="1240" width="18"/><text x="1249">12</text><rect class="c12" x="1283" width="18"/><text x="1292">12</text></g>
<g id="PbNAC2l" class="r" transform="translate(0,1698)"><text class="l k30" x="829" y="-2.25">PbNAC2l</text><rect class="b" x="1111" width="319"/><rect class="c16" x="1112" width="53"/><text x="1138.5">16</text><rect class="c9" x="1203" width="28"/><text x="1217">9</text><rect class="c12" x="1240" width="18"/><text x="1249">12</text></g>
<g id="PbNAC11" class="r" transform="translate(0,1719.9)"><text class="l k30" x="829" y="-2.3">PbNAC11</text><rect class="b" x="1111" width="305"/><rect class="c9" x="1198" width="29"/><text x="1212.5">9</text></g>
<g id="PbNAC54" class="r" transform="translate(0,1741.7)"><text class="l k30" x="829" y="-2.35">PbNAC54</text><rect class="b" x="1111" width="68"/></g>
<g id="PbNAC32e" class="r" transform="translate(0,1763.6)"><text class="l k30" x="829" y="-2.4">PbNAC32e</text><rect class="b" x="1111" width="257"/><rect class="c9" x="1199" width="29"/><text x="1213.5">9</text></g>
<g id="PbNAC2j" class="r" transform="translate(0,1785.5)"><text class="l k31" x="829" y="-2.45">PbNAC2j</text><rect class="b" x="1111" width="305"/><rect class="c7" x="1118" width="17"/><text x="1126.5">7</text><rect class="c17" x="1142" width="33"/><text x="1158.5">17</text><rect class="c9" x="1192" width="28"/><text x="1206">9</text><rect class="c19" x="1221" width="13"/><text x="1227.5">19</text></g>
<g id="PbNAC50" class="r" transform="translate(0,1807.3)"><text class="l k31" x="829" y="-2.5">PbNAC50</text><rect class="b" x="1111" width="61"/><rect class="c7" x="1118" width="17"/><text x="1126.5">7</text></g>
<g id="PbNAC86b" class="r" transform="translate(0,1829.2)"><text class="l k31" x="829" y="-2.55">PbNAC86b</text><rect class="b" x="1111" width="248"/><rect class="c7" x="1118" width="17"/><text x="1126.5">7</text><rect class="c17" x="1142" width="33"/><text x="1158.5">17</text><rect class="c9" x="1192" width="28"/><text x="1206">9</text><rect class="c19" x="1221" width="13"/><text x="1227.5">19</text></g>
<g id="PbNAC86a" class="r" transform="translate(0,1851.1)"><text class="l k31" x="829" y="-2.6">PbNAC86a</text><rect class="b" x="1111" width="248"/><rect class="c7" x="1118" width="17"/><text x="1126.5">7</text><rect class="c17" x="1142" width="33"/><text x="1158.5">17</text><rect class="c9" x="1192" width="28"/><text x="1206">9</text><rect class="c19" x="1221" width="13"/><text x="1227.5">19</text></g>
<g id="PbNAC7g" class="r" transform="translate(0,1873)"><text class="l k31" x="829" y="-2.65">PbNAC7g</text><rect class="b" x="1111" width="281"/><rect class="c7" x="1120" width="16"/><text x="1128">7</text><rect class="c17" x="1145" width="33"/><text x="1161.5">17</text><rect class="c9" x="1191" width="29"/><text x="1205.5">9</text><rect class="c19" x="1221" width="13"/><text x="1227.5">19</text></g>
<g id="PbNAC2k" class="r" transform="translate(0,1894.8)"><text class="l k31" x="829" y="-2.7">PbNAC2k</text><rect class="b" x="1111" width="281"/><rect class="c7" x="1120" width="16"/><text x="1128">7</text><rect class="c9" x="1191" width="29"/><text x="1205.5">9</text><rect class="c19" x="1221" width="13"/><text x="1227.5">19</text></g>
<g id="PbNAC43d" class="r" transform="translate(0,1916.7)"><text class="l k31" x="829" y="-2.75">PbNAC43d</text><rect class="b" x="1111" width="227"/><rect class="c7" x="1124" width="17"/><text x="1132.5">7</text><rect class="c17" x="1150" width="34"/><text x="1167">17</text><rect class="c9" x="1199" width="29"/><text x="1213.5">9</text></g>
<g id="PbNAC43c" class="r" transform="translate(0,1938.6)"><text class="l k31" x="829" y="-2.8">PbNAC43c</text><rect class="b" x="1111" width="227"/><rect class="c7" x="1124" width="17"/><text x="1132.5">7</text><rect class="c17" x="1150" width="34"/><text x="1167">17</text><rect class="c9" x="1199" width="29"/><text x="1213.5">9</text></g>
<g id="PbNAC94e" class="r" transform="translate(0,1960.4)"><text class="l k31" x="829" y="-2.85">PbNAC94e</text><rect class="b" x="1111" width="301"/><rect class="c7" x="1131" width="17"/><text x="1139.5">7</text><rect class="c17" x="1159" width="34"/><text x="1176">17</text><rect class="c9" x="1209" width="28"/><text x="1223">9</text><rect class="c12" x="1246" width="17"/><text x="1254.5">12</text><rect class="c14" x="1292" width="79"/><text x="1331.5">14</text></g>
<g id="PbNAC94f" class="r" transform="translate(0,1982.3)"><text class="l k31" x="829" y="-2.9">PbNAC94f</text><rect class="b" x="1111" width="301"/><rect class="c7" x="1131" width="17"/><text x="1139.5">7</text><rect class="c17" x="1159" width="34"/><text x="1176">17</text><rect class="c9" x="1209" width="28"/><text x="1223">9</text><rect class="c12" x="1246" width="17"/><text x="1254.5">12</text><rect class="c14" x="1292" width="79"/><text x="1331.5">14</text></g>
<g id="PbNAC94c" class="r" transform="translate(0,2004.2)"><text class="l k31" x="829" y="-2.95">PbNAC94c</text><rect class="b" x="1111" width="306"/><rect class="c5" x="1132" width="34"/><text x="1149">5</text><rect class="c9" x="1204" width="29"/><text x="1218.5">9</text><rect class="c12" x="1242" width="18"/><text x="1251">12</text><rect class="c14" x="1299" width="79"/><text x="1338.5">14</text></g>
<g id="PbNAC94d" class="r" transform="translate(0,2026)"><text class="l k31" x="829" y="-3">PbNAC94d</text><rect class="b" x="1111" width="296"/><rect class="c5" x="1132" width="34"/><text x="1149">5</text><rect class="c9" x="1204" width="29"/><text x="1218.5">9</text><rect class="c12" x="1242" width="18"/><text x="1251">12</text><rect class="c14" x="1287" width="79"/><text x="1326.5">14</text></g>
<g id="PbNAC89" class="r" transform="translate(0,2047.9)"><text class="l k0" x="829" y="-3.05">PbNAC89</text><rect class="b" x="1111" width="244"/><rect class="c17" x="1143" width="34"/><text x="1160">17</text><rect class="c9" x="1198" width="29"/><text x="1212.5">9</text></g>
</g>
<g id="clades">
<rect class="cb" x="129" y="11.5" width="5" height="458.5"/><text class="cl" x="134" y="249.3">C100a</text>
<rect class="cb" x="129" y="491.8" width="5" height="65.6"/><text class="cl" x="134" y="533.1">C7b</text>
<rect class="cb" x="129" y="579.1" width="5" height="21.9"/><text class="cl" x="134" y="598.5">C7c</text>
<rect class="cb" x="129" y="622.9" width="5" height="109.1"/><text class="cl" x="134" y="685.9">C30b</text>
<rect class="cb" x="129" y="753.8" width="5" height="131"/><text class="cl" x="134" y="827.8">C70c</text>
<rect class="cb" x="129" y="972.2" width="5" height="43.6"/><text class="cl" x="134" y="1002.5">C47a</text>
<rect class="cb" x="129" y="1037.6" width="5" height="43.7"/><text class="cl" x="134" y="1067.9">C25c</text>
<rect class="cb" x="129" y="1103.1" width="5" height="109.2"/><text class="cl" x="134" y="1166.2">C2f</text>
<rect class="cb" x="129" y="1234.1" width="5" height="21.9"/><text class="cl" x="134" y="1253.5">C72b</text>
<rect class="cb" x="129" y="1277.8" width="5" height="43.7"/><text class="cl" x="134" y="1308.1">C104c</text>
<rect class="cb" x="129" y="1343.3" width="5" height="174.6"/><text class="cl" x="134" y="1439.1">C42b</text>
<rect class="cb" x="129" y="1539.8" width="5" height="174.7"/><text class="cl" x="134" y="1635.6">C90e</text>
<rect class="cb" x="129" y="1736.2" width="5" height="131.1"/><text class="cl" x="134" y="1810.3">C14k</text>
<rect class="cb" x="129" y="1889.1" width="5" height="43.7"/><text class="cl" x="134" y="1919.5">C81b</text>
<rect class="cb" x="959.5" y="7.2" width="5" height="131.2"/><text class="cl" x="965" y="82.8">C20b</text>
<rect class="cb" x="959.5" y="160.2" width="5" height="21.9"/><text class="cl" x="965" y="181.2">C71a</text>
<rect class="cb" x="959.5" y="203.9" width="5" height="131.3"/><text class="cl" x="965" y="279.6">C14m</text>
<rect class="cb" x="959.5" y="357" width="5" height="65.6"/><text class="cl" x="965" y="399.8">C78b</text>
<rect class="cb" x="959.5" y="444.4" width="5" height="43.7"/><text class="cl" x="965" y="476.3">C82</text>
<rect class="cb" x="959.5" y="510" width="5" height="43.8"/><text class="cl" x="965" y="541.9">C2h</text>
<rect class="cb" x="959.5" y="597.5" width="5" height="43.7"/><text class="cl" x="965" y="629.3">C32b</text>
<rect class="cb" x="959.5" y="663.1" width="5" height="131.1"/><text class="cl" x="965" y="738.6">C8b</text>
<rect class="cb" x="959.5" y="816.1" width="5" height="109.3"/><text class="cl" x="965" y="880.7">C83e</text>
<rect class="cb" x="959.5" y="947.3" width="5" height="65.5"/><text class="cl" x="965" y="990">C83j</text>
<rect class="cb" x="959.5" y="1034.7" width="5" height="43.7"/><text class="cl" x="965" y="1066.5">C91a</text>
<rect class="cb" x="959.5" y="1100.3" width="5" height="43.7"/><text class="cl" x="965" y="1132.1">C14j</text>
<rect class="cb" x="959.5" y="1165.9" width="5" height="21.9"/><text class="cl" x="965" y="1186.8">C40b</text>
<rect class="cb" x="959.5" y="1209.7" width="5" height="21.8"/><text class="cl" x="965" y="1230.6">C90f</text>
<rect class="cb" x="959.5" y="1362.6" width="5" height="65.7"/><text class="cl" x="965" y="1405.4">C41</text>
<rect class="cb" x="959.5" y="1450.1" width="5" height="65.6"/><text class="cl" x="965" y="1492.9">C26b</text>
<rect class="cb" x="959.5" y="1537.5" width="5" height="21.9"/><text class="cl" x="965" y="1558.5">C57</text>
<rect class="cb" x="959.5" y="1581.2" width="5" height="175"/><text class="cl" x="965" y="1678.7">C38g</text>
<rect class="cb" x="959.5" y="1778" width="5" height="240.5"/><text class="cl" x="965" y="1908.3">C2j</text>
</g>
<g id="legend">
<text class="ln" x="5" y="2060.7">1</text><rect class="lb c1" x="27" y="2045" width="34" height="20"/><text class="lt" x="82" y="2060.7">ESSLPPGFRFHPTDEELVLYYLKRKVASKPIDLDVIAEVDLYKYEPWDLPGK</text>
<text class="ln" x="5" y="2082.5">2</text><rect class="lb c2" x="27" y="2066.8" width="34" height="20"/><text class="lt" x="82" y="2082.5">AKTGEKEWYFFSPRDRKYPNGSRTNRATAAGYWKATGKDKAI</text>
<text class="ln" x="5" y="2104.4">3</text><rect class="lb c3" x="27" y="2088.7" width="34" height="20"/><text class="lt" x="82" y="2104.4">GEKEWYFFSPRDRKYPNGSRPNRATGSGYWKATGKDKPIKS</text>
<text class="ln" x="5" y="2126.2">4</text><rect class="lb c4" x="27" y="2110.5" width="34" height="20"/><text class="lt" x="82" y="2126.2">VGMKKTLVFYKGRAPKGIKTBWIMHEYRL</text>
<text class="ln" x="5" y="2148.1">5</text><rect class="lb c5" x="27" y="2132.4" width="34" height="20"/><text class="lt" x="82" y="2148.1">GFRFHPTDEELVGHYLRRKVESKPLPAEIIPEVDLYKYDPW</text>
<text class="ln" x="5" y="2169.9">6</text><rect class="lb c6" x="27" y="2154.2" width="34" height="20"/><text class="lt" x="82" y="2169.9">VGMKKTLVFYRGRAPKGEKTBWIMHEYRL</text>
<text class="ln" x="5" y="2191.7">7</text><rect class="lb c7" x="27" y="2176" width="34" height="20"/><text class="lt" x="82" y="2191.7">PPGFRFHPTDEELISYYLKNK</text>
<text class="ln" x="5" y="2213.6">8</text><rect class="lb c8" x="27" y="2197.9" width="34" height="20"/><text class="lt" x="82" y="2213.6">TRKDEWVLCRVFKKK</text>
<text class="ln" x="5" y="2235.4">9</text><rect class="lb c9" x="27" y="2219.7" width="34" height="20"/><text class="lt" x="82" y="2235.4">TDGBGTAIGLKRTFRYKNEGSEBNGGWLLEEYSLL</text>
<text class="ln" x="5" y="2257.3">10</text><rect class="lb c10" x="27" y="2241.6" width="34" height="20"/><text class="lt" x="82" y="2257.3">HEWPGLPAGVKFDPTDQEJJQHLEAKVGVGDRKPHPLIDEFIPTLEGDNGICYTHPEKLPGVTKDGSSRHFFHRPSKAYTTGTRKRRK</text>
<text class="ln" x="5" y="2279.1">11</text><rect class="lb c11" x="27" y="2263.4" width="34" height="20"/><text class="lt" x="82" y="2279.1">KGKKTBWVMHEYRLT</text>
<text class="ln" x="5" y="2300.9">12</text><rect class="lb c12" x="27" y="2285.2" width="34" height="20"/><text class="lt" x="82" y="2300.9">EQDDFVLCRVFKKSDSGKKKC</text>
<text class="ln" x="5" y="2322.8">13</text><rect class="lb c13" x="27" y="2307.1" width="34" height="20"/><text class="lt" x="82" y="2322.8">NESPCWYDDQVSFMPDLDSPGHNSSSMNMNMVPYHHLPNYPCKKELDHLPFQVPHEHFFQLPLLGSPKLLQSSSATAVSSSNSMAPHAYGIDINHACTFQ</text>
<text class="ln" x="5" y="2344.6">14</text><rect class="lb c14" x="27" y="2328.9" width="34" height="20"/><text class="lt" x="82" y="2344.6">PAKKKARNEVGSQNTTSVITHTIEELQNCPSTSSAPVLPFDESNYKMISDAINHDQQCISNIDGSTMPANFSDHDYVPVSFASEGGEFLLKDEDFLFDNG</text>
<text class="ln" x="5" y="2366.5">15</text><rect class="lb c15" x="27" y="2350.8" width="34" height="20"/><text class="lt" x="82" y="2366.5">DLCKFEPWDLP</text>
<text class="ln" x="5" y="2388.3">16</text><rect class="lb c16" x="27" y="2372.6" width="34" height="20"/><text class="lt" x="82" y="2388.3">INHSLVPSCFRFKPTDQELIGRFLRYFLVETPRLLPPPPHHTFMHKCNLFGNHSEPSEIWEAFGGG</text>
<text class="ln" x="5" y="2410.1">17</text><rect class="lb c17" x="27" y="2394.4" width="34" height="20"/><text class="lt" x="82" y="2410.1">FVHEFBLFGQTPPWVVWENFGGNSLLDQDLYFFYZLRSRSDS</text>
<text class="ln" x="5" y="2432">18</text><rect class="lb c18" x="27" y="2416.3" width="34" height="20"/><text class="lt" x="82" y="2432">TNRATKQGYWKATGKEKEIRA</text>
<text class="ln" x="5" y="2453.8">19</text><rect class="lb c19" x="27" y="2438.1" width="34" height="20"/><text class="lt" x="82" y="2453.8">KAVIGKKRILTFYKG</text>
<text class="ln" x="5" y="2475.7">20</text><rect class="lb c20" x="27" y="2460" width="34" height="20"/><text class="lt" x="82" y="2475.7">PTHPVDQEEGMPAFLHHLTNSRQVAANCYSGISSTGNSCAALFTGGSSSVSSSNMNAIDDLHRLLNYQPVHVQQQAAPNHYQQQQYVQHHLVQYYDHHHH</text>
</g>
</svg>
